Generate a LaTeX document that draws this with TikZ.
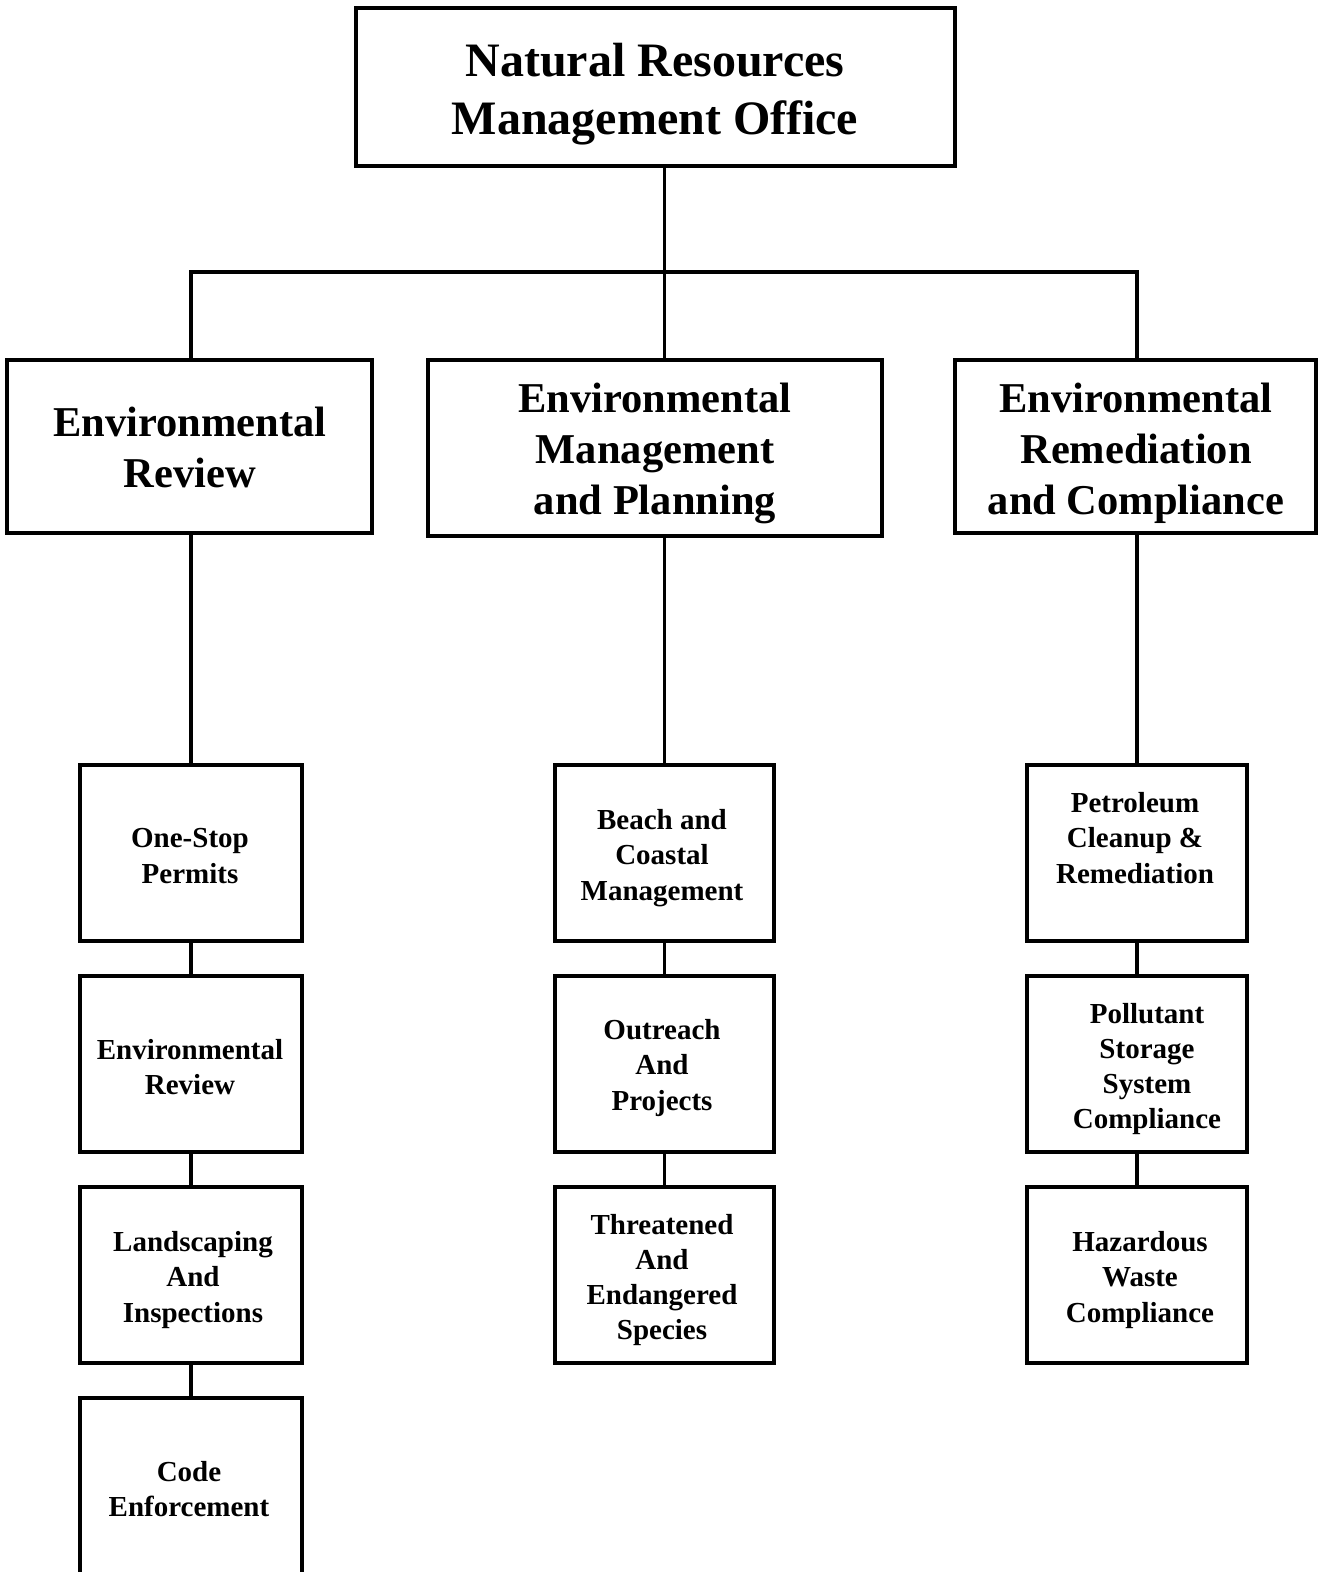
\documentclass[tikz,border=0pt]{standalone}
\usepackage{fontspec}
\setmainfont{Liberation Serif}
\begin{document}
\begin{tikzpicture}[x=1pt,y=-1pt,
  box/.style={draw=black, line width=3.5pt, inner sep=0pt, fill=white},
  conn/.style={draw=black, line width=3.5pt},
  tA/.style={align=center, font=\fontsize{48}{58}\selectfont\bfseries, inner sep=0pt},
  tB/.style={align=center, font=\fontsize{42.5}{51}\selectfont\bfseries, inner sep=0pt},
  tC/.style={align=center, font=\fontsize{29}{35.3}\selectfont\bfseries, inner sep=0pt}]
\clip (0,0) rectangle (1318,1572);
\fill[white] (0,0) rectangle (1318,1572);
\coordinate (hbar) at (0,272);
% boxes
\node[box, minimum width=599pt, minimum height=158pt] (top) at (655.5,87) {};
\node[box, minimum width=365pt, minimum height=173pt] (er) at (189.5,446.5) {};
\node[box, minimum width=454pt, minimum height=176pt] (emp) at (655,448) {};
\node[box, minimum width=361pt, minimum height=173pt] (erc) at (1135.5,446.5) {};
\node[box, minimum width=222pt, minimum height=176pt] (os) at (191,853) {};
\node[box, minimum width=222pt, minimum height=176pt] (envr) at (191,1064) {};
\node[box, minimum width=222pt, minimum height=176pt] (land) at (191,1275) {};
\node[box, minimum width=222pt, minimum height=200pt] (code) at (191,1498) {};
\node[box, minimum width=219pt, minimum height=176pt] (bc) at (664.5,853) {};
\node[box, minimum width=219pt, minimum height=176pt] (out) at (664.5,1064) {};
\node[box, minimum width=219pt, minimum height=176pt] (thr) at (664.5,1275) {};
\node[box, minimum width=220pt, minimum height=176pt] (pc) at (1137,853) {};
\node[box, minimum width=220pt, minimum height=176pt] (pol) at (1137,1064) {};
\node[box, minimum width=220pt, minimum height=176pt] (haz) at (1137,1275) {};
% connectors
\draw[conn] (top.south -| bc.north) -- (emp.north -| bc.north);
\draw[conn] (er.north -| os.north) -- (os.north |- hbar) -- (pc.north |- hbar) -- (erc.north -| pc.north);
\draw[conn] (er.south -| os.north) -- (os.north);
\draw[conn] (emp.south -| bc.north) -- (bc.north);
\draw[conn] (erc.south -| pc.north) -- (pc.north);
\draw[conn] (os.south) -- (envr.north);
\draw[conn] (envr.south) -- (land.north);
\draw[conn] (land.south) -- (code.north);
\draw[conn] (bc.south) -- (out.north);
\draw[conn] (out.south) -- (thr.north);
\draw[conn] (pc.south) -- (pol.north);
\draw[conn] (pol.south) -- (haz.north);
% texts
\node[tA] (ttop) at (655,94.5) {Natural Resources\\Management Office};
\node[tB] (ter) at (190,447) {Environmental\\Review};
\node[tB] (temp) at (655,453) {Environmental\\Management\\and Planning};
\node[tB] (terc) at (1136,453) {Environmental\\Remediation\\and Compliance};
\node[tC] (tos) at (190,856) {One-Stop\\Permits};
\node[tC] (tenvr) at (190,1067) {Environmental\\Review};
\node[tC] (tland) at (193,1280) {Landscaping\\And\\Inspections};
\node[tC] (tcode) at (189,1489) {Code\\Enforcement};
\node[tC] (tbc) at (662,858) {Beach and\\Coastal\\Management};
\node[tC] (tout) at (662,1068) {Outreach\\And\\Projects};
\node[tC] (tthr) at (662,1280) {Threatened\\And\\Endangered\\Species};
\node[tC] (tpc) at (1135,838) {Petroleum\\Cleanup \&\\Remediation};
\node[tC] (tpol) at (1147,1069) {Pollutant\\Storage\\System\\Compliance};
\node[tC] (thaz) at (1140,1280) {Hazardous\\Waste\\Compliance};
\end{tikzpicture}
\end{document}
